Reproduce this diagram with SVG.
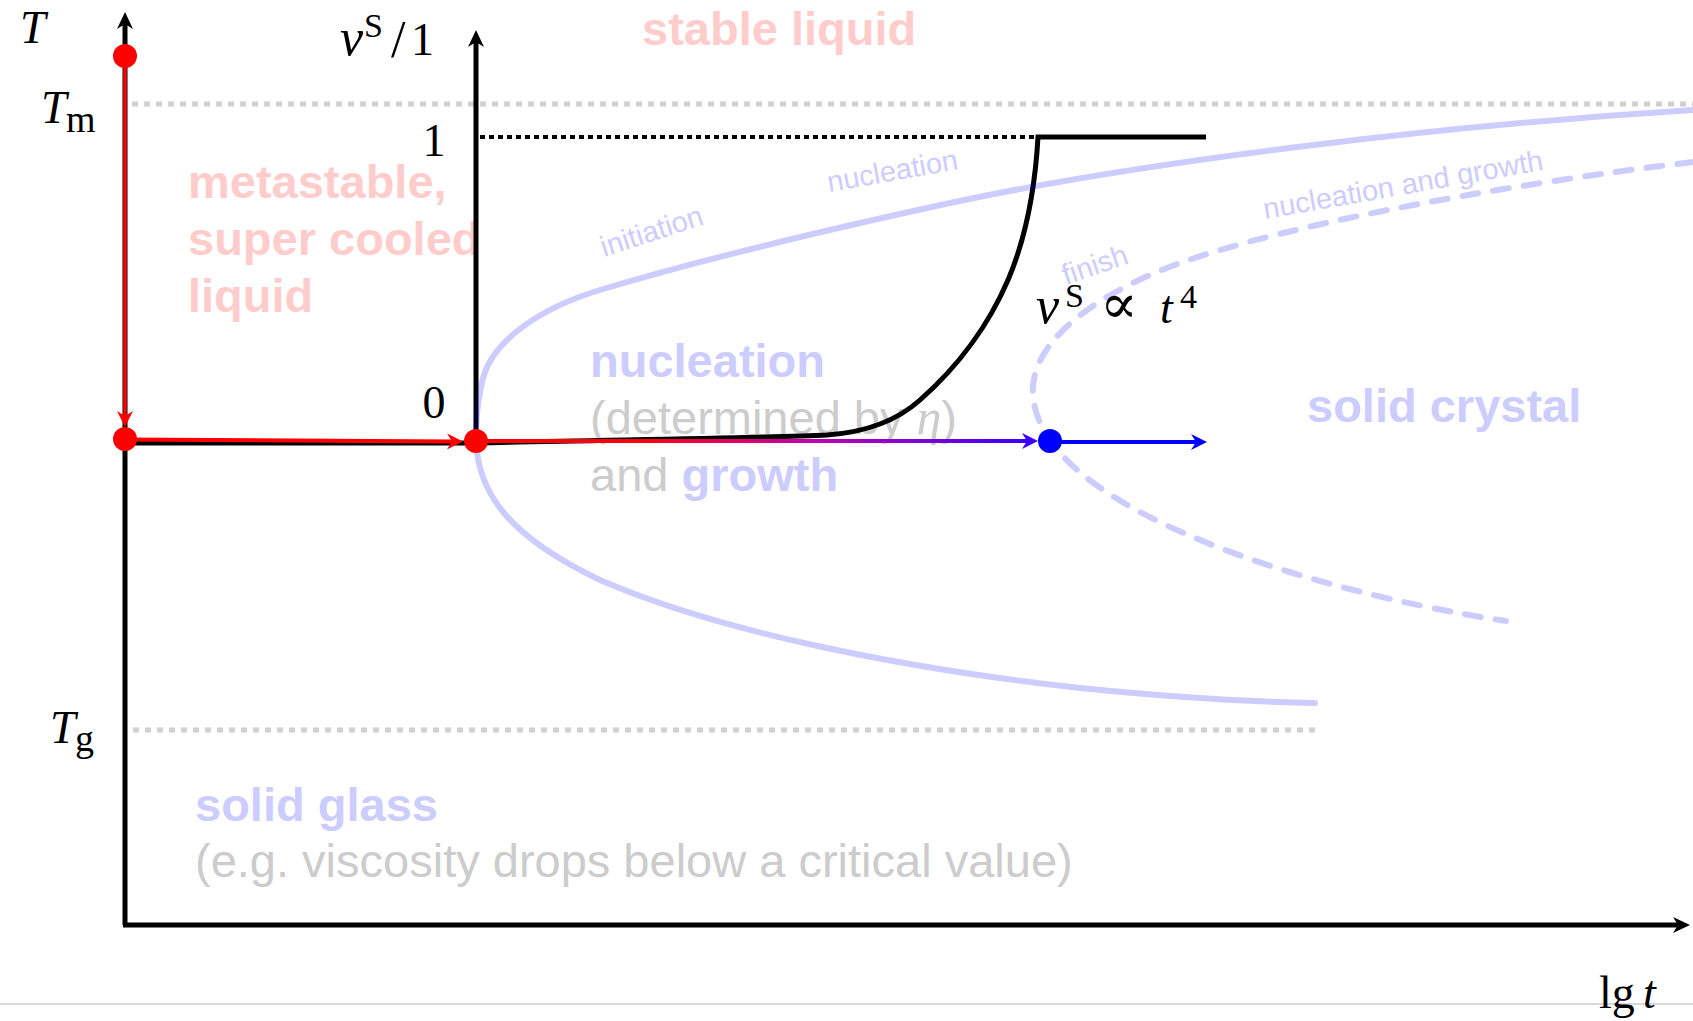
<svg xmlns="http://www.w3.org/2000/svg" width="1693" height="1021" viewBox="0 0 1693 1021">
<style>
.bold{font-family:"Liberation Sans",Arial,sans-serif;font-weight:bold;font-size:47px}
.reg{font-family:"Liberation Sans",Arial,sans-serif;font-size:47px}
.small{font-family:"Liberation Sans",Arial,sans-serif;font-size:29px;fill:#ccccff}
.pink{fill:#ffcccc}
.lav{fill:#ccccff}
.gray{fill:#cccccc}
.math{font-family:"Liberation Serif","DejaVu Serif",serif;font-size:46px;fill:#000}
.it{font-style:italic}
.dotgray{fill:none;stroke:#d0d0d0;stroke-width:5;stroke-dasharray:6 6}
.bluecurve{fill:none;stroke:#0000ff;stroke-opacity:0.2;stroke-width:6;stroke-linecap:round}
.axis{fill:none;stroke:#000;stroke-width:5}
</style>
<defs>
<marker id="ah-black" viewBox="-20 -10 22 20" refX="-10" refY="0" markerWidth="22" markerHeight="20" markerUnits="userSpaceOnUse" orient="auto">
<path d="M0,0 L-17,-8 L-12,0 L-17,8 Z" fill="#000"/>
</marker>
<marker id="ah-red" viewBox="-20 -10 22 20" refX="-10" refY="0" markerWidth="22" markerHeight="20" markerUnits="userSpaceOnUse" orient="auto">
<path d="M0,0 L-16,-8 L-11,0 L-16,8 Z" fill="#ff0000"/>
</marker>
<marker id="ah-violet" viewBox="-20 -10 22 20" refX="-10" refY="0" markerWidth="22" markerHeight="20" markerUnits="userSpaceOnUse" orient="auto">
<path d="M0,0 L-16,-8 L-11,0 L-16,8 Z" fill="#3a00ff"/>
</marker>
<marker id="ah-blue" viewBox="-20 -10 22 20" refX="-10" refY="0" markerWidth="22" markerHeight="20" markerUnits="userSpaceOnUse" orient="auto">
<path d="M0,0 L-16,-8 L-11,0 L-16,8 Z" fill="#0000ff"/>
</marker>
<linearGradient id="rb" gradientUnits="userSpaceOnUse" x1="476" y1="0" x2="1040" y2="0">
<stop offset="0" stop-color="#ff0000"/>
<stop offset="0.3" stop-color="#ff0010"/>
<stop offset="0.6" stop-color="#c000b0"/>
<stop offset="1" stop-color="#3000ff"/>
</linearGradient>
</defs>
<rect width="1693" height="1021" fill="#fff"/>

<g id="region-labels">
<text class="bold pink" x="642" y="45">stable liquid</text>
<text class="bold pink" x="188" y="198">metastable,</text>
<text class="bold pink" x="188" y="255">super cooled</text>
<text class="bold pink" x="188" y="312">liquid</text>
<text class="bold lav" x="590" y="377">nucleation</text>
<text class="reg gray" x="590" y="434">(determined by <tspan font-family="Liberation Serif, DejaVu Serif, serif" font-style="italic" font-size="50">η</tspan>)</text>
<text class="reg gray" x="590" y="491">and <tspan class="bold lav">growth</tspan></text>
<text class="bold lav" x="1307" y="422">solid crystal</text>
<text class="bold lav" x="195" y="821">solid glass</text>
<text class="reg gray" x="195" y="877">(e.g. viscosity drops below a critical value)</text>
</g>

<g id="reference-lines">
<line class="dotgray" x1="132" y1="104" x2="1693" y2="104"/>
<line class="dotgray" x1="133" y1="730" x2="1318" y2="730"/>
<line x1="0" y1="1004" x2="1693" y2="1004" stroke="#d9d9d9" stroke-width="2"/>
</g>

<g id="axes">
<line class="axis" x1="125" y1="925" x2="125" y2="22" marker-end="url(#ah-black)"/>
<line class="axis" x1="123" y1="925" x2="1680" y2="925" marker-end="url(#ah-black)"/>
<line class="axis" x1="476" y1="441" x2="476" y2="40" marker-end="url(#ah-black)"/>
<line x1="480" y1="137" x2="1036" y2="137" stroke="#000" stroke-width="4" stroke-dasharray="5 4"/>
</g>

<g id="volume-fraction-curve">
<path d="M125,443 L476,443 C600,440 760,438 827,435 C870,432 900,418 920,400 C960,365 990,322 1008,280 C1025,240 1035,190 1038,137 H1206" fill="none" stroke="#000" stroke-width="5"/>
</g>

<g id="ttt-curves">
<path class="bluecurve" d="M1693,110 C1450,125 1150,160 950,203 C830,229 700,260 600,290 C540,308 495,340 484,375 C478,395 476,420 476,441 C478,490 505,535 600,580 C720,632 900,668 1080,688 C1180,698 1260,702 1315,703"/>
<path class="bluecurve" stroke-width="7.5" stroke-dasharray="16 15" d="M1693,162 C1500,185 1250,230 1150,275 C1060,315 1030,360 1033,395 C1036,440 1080,480 1140,512 C1250,570 1400,605 1506,621"/>
<text class="small" transform="translate(604,257) rotate(-18)">initiation</text>
<text class="small" transform="translate(829,192) rotate(-10)">nucleation</text>
<text class="small" transform="translate(1265,219) rotate(-10)">nucleation and growth</text>
<text class="small" transform="translate(1066,285) rotate(-19)">finish</text>
</g>

<g id="connectors">
<line x1="125" y1="56" x2="125" y2="417" stroke="#ff0000" stroke-width="3.5" marker-end="url(#ah-red)"/>
<line x1="125" y1="439.5" x2="453" y2="441.5" stroke="#ff0000" stroke-width="4" marker-end="url(#ah-red)"/>
<line x1="476" y1="441" x2="1028" y2="441" stroke="url(#rb)" stroke-width="4" marker-end="url(#ah-violet)"/>
<line x1="1050" y1="442" x2="1197" y2="442" stroke="#0000ff" stroke-width="4" marker-end="url(#ah-blue)"/>
</g>

<g id="node-start"><circle cx="125" cy="56" r="12" fill="#ff0000"/></g>
<g id="node-quench"><circle cx="125" cy="439" r="12" fill="#ff0000"/></g>
<g id="node-hold"><circle cx="476" cy="441" r="12" fill="#ff0000"/></g>
<g id="node-finish"><circle cx="1050" cy="441" r="12" fill="#0000ff"/></g>

<g id="math-labels">
<text class="math it" x="20" y="43">T</text>
<text class="math" x="41" y="123"><tspan class="it">T</tspan><tspan x="66" y="132" font-size="38">m</tspan></text>
<text class="math" x="50" y="743"><tspan class="it">T</tspan><tspan x="75" y="751" font-size="38">g</tspan></text>
<text class="math" x="340" y="55"><tspan class="it" font-size="52">v</tspan><tspan x="364" y="37" font-size="34">S</tspan><tspan x="391" y="57" font-size="52">/</tspan><tspan x="411" y="55">1</tspan></text>
<text class="math" x="434" y="156" text-anchor="middle">1</text>
<text class="math" x="434" y="418" text-anchor="middle">0</text>
<text class="math" x="1036" y="323"><tspan class="it" font-size="52">v</tspan><tspan x="1065" y="307" font-size="34">S</tspan><tspan x="1100" y="323" font-size="56">∝</tspan><tspan class="it" x="1160" y="323">t</tspan><tspan x="1180" y="308" font-size="34">4</tspan></text>
<text class="math" x="1599" y="1008">lg<tspan class="it" x="1643">t</tspan></text>
</g>
</svg>
